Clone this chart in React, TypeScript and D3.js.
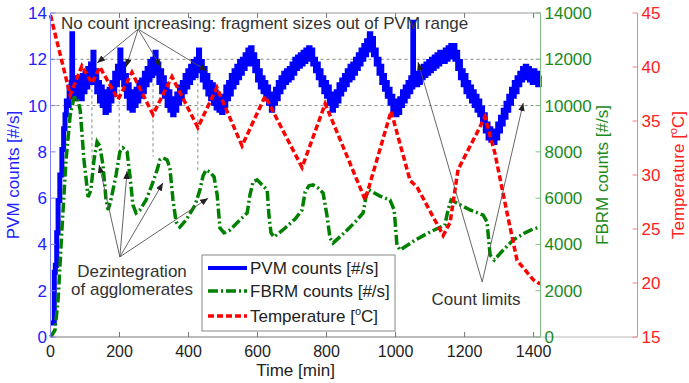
import React from "react";
import * as d3 from "d3";

const W = 689;
const H = 383;

const timeTicks = [0, 200, 400, 600, 800, 1000, 1200, 1400];
const pvmTicks = [0, 2, 4, 6, 8, 10, 12, 14];
const fbrmTicks = [0, 2000, 4000, 6000, 8000, 10000, 12000, 14000];
const tempTicks = [15, 20, 25, 30, 35, 40, 45];
const limitLines = [10, 12];

// PVM counts [#/s] (time [min], value)
const pvm: [number, number][] = [
  [0, 0.6], [5, 0.6], [10, 0.6], [11, 2.8], [14, 3.1], [18, 4.5], [22, 5.9], [27, 7.0], [33, 8.1], [38, 9.0],
  [42, 9.6], [46, 10.2], [50, 10.0], [54, 10.8], [58, 10.4], [60, 11.0], [62, 13.1], [64, 10.5], [68, 11.0], [72, 10.3],
  [76, 11.2], [80, 10.5], [84, 11.0], [88, 10.3], [92, 11.3], [96, 10.6], [100, 11.4], [104, 10.8], [108, 11.6], [112, 11.0],
  [116, 11.8], [120, 11.2], [123, 12.3], [126, 11.0], [130, 11.5], [134, 10.6], [138, 11.0], [142, 10.2], [146, 10.8], [150, 10.0],
  [154, 10.6], [158, 9.7], [162, 10.5], [166, 9.8], [170, 10.7], [174, 10.2], [178, 11.0], [182, 10.5], [186, 11.4], [190, 10.9],
  [194, 11.7], [198, 11.2], [201, 12.4], [204, 11.3], [208, 11.8], [212, 10.9], [216, 11.3], [220, 10.4], [224, 10.9], [228, 9.9],
  [232, 10.6], [236, 9.8], [240, 10.5], [244, 10.0], [248, 10.7], [252, 10.2], [256, 11.0], [260, 10.4], [264, 11.1], [268, 10.6],
  [272, 11.4], [276, 10.9], [280, 11.6], [284, 11.1], [288, 11.9], [292, 11.3], [296, 12.0], [300, 11.5], [303, 12.3], [306, 11.4],
  [310, 11.8], [314, 11.0], [318, 11.5], [322, 10.6], [326, 11.2], [330, 10.4], [334, 10.9], [338, 10.0], [342, 10.6], [346, 9.8],
  [350, 10.3], [354, 9.6], [358, 10.2], [362, 9.8], [366, 10.5], [370, 10.1], [374, 10.8], [378, 10.3], [382, 11.0], [386, 10.6],
  [390, 11.3], [394, 10.8], [398, 11.5], [402, 11.0], [406, 11.7], [410, 11.2], [414, 11.9], [418, 11.3], [422, 12.0], [426, 11.5],
  [429, 12.4], [432, 11.6], [436, 11.9], [440, 11.1], [444, 11.6], [448, 10.8], [452, 11.3], [456, 10.5], [460, 11.0], [464, 10.3],
  [468, 10.9], [472, 10.1], [476, 10.6], [480, 9.9], [484, 10.4], [488, 9.8], [492, 10.3], [496, 9.7], [500, 10.4], [504, 10.0],
  [508, 10.8], [512, 10.3], [516, 11.0], [520, 10.5], [524, 11.3], [528, 10.8], [532, 11.5], [536, 11.0], [540, 11.7], [544, 11.2],
  [548, 11.9], [552, 11.4], [556, 12.0], [560, 11.6], [564, 12.2], [568, 11.8], [572, 12.4], [576, 12.0], [580, 12.5], [584, 11.8],
  [588, 12.2], [592, 11.5], [596, 11.9], [600, 11.1], [604, 11.5], [608, 10.8], [612, 11.2], [616, 10.6], [620, 11.0], [624, 10.3],
  [628, 10.8], [632, 10.1], [636, 10.5], [640, 9.8], [644, 10.4], [648, 10.1], [652, 10.7], [656, 10.3], [660, 11.0], [664, 10.6],
  [668, 11.2], [672, 10.8], [676, 11.4], [680, 11.0], [684, 11.5], [688, 11.1], [692, 11.6], [696, 11.2], [700, 11.8], [704, 11.4],
  [708, 12.0], [712, 11.6], [716, 12.1], [720, 11.7], [724, 12.2], [728, 11.8], [732, 12.3], [736, 11.9], [740, 12.4], [744, 12.0],
  [748, 12.5], [752, 12.1], [756, 12.4], [760, 11.8], [764, 12.0], [768, 11.5], [772, 11.8], [776, 11.2], [780, 11.5], [784, 10.9],
  [788, 11.2], [792, 10.6], [796, 11.0], [800, 10.4], [804, 10.8], [808, 10.1], [812, 10.5], [816, 9.8], [820, 10.3], [824, 10.0],
  [828, 10.6], [832, 10.2], [836, 10.9], [840, 10.5], [844, 11.1], [848, 10.7], [852, 11.3], [856, 10.9], [860, 11.5], [864, 11.1],
  [868, 11.7], [872, 11.2], [876, 11.8], [880, 11.4], [884, 12.0], [888, 11.6], [892, 12.2], [896, 11.8], [900, 12.4], [904, 12.0],
  [908, 12.6], [912, 12.2], [916, 12.8], [920, 12.4], [924, 13.1], [928, 12.6], [932, 12.9], [936, 12.2], [940, 12.4], [944, 11.8],
  [948, 12.0], [952, 11.4], [956, 11.7], [960, 11.0], [964, 11.3], [968, 10.7], [972, 11.0], [976, 10.4], [980, 10.7], [984, 10.1],
  [988, 10.4], [992, 9.8], [996, 10.2], [1000, 9.6], [1004, 10.1], [1008, 9.7], [1012, 10.3], [1016, 10.0], [1020, 10.6], [1024, 10.2],
  [1028, 10.8], [1032, 10.4], [1036, 11.0], [1040, 10.6], [1044, 11.2], [1048, 10.8], [1050, 13.6], [1052, 10.9], [1056, 11.3], [1060, 10.9],
  [1064, 11.4], [1068, 11.0], [1072, 11.6], [1076, 11.2], [1080, 11.7], [1084, 11.3], [1088, 11.8], [1092, 11.4], [1096, 11.9], [1100, 11.5],
  [1104, 12.0], [1108, 11.6], [1112, 12.1], [1116, 11.7], [1120, 12.2], [1124, 11.8], [1128, 12.3], [1132, 11.9], [1136, 12.3], [1140, 11.9],
  [1144, 12.4], [1148, 12.0], [1152, 12.5], [1156, 12.1], [1160, 12.6], [1164, 12.2], [1168, 12.6], [1172, 12.0], [1176, 12.3], [1180, 11.6],
  [1184, 11.9], [1188, 11.2], [1192, 11.5], [1196, 10.9], [1200, 11.3], [1204, 10.6], [1208, 11.0], [1212, 10.4], [1216, 10.8], [1220, 10.2],
  [1224, 10.6], [1228, 10.0], [1232, 10.4], [1236, 9.8], [1240, 10.2], [1244, 9.6], [1248, 9.9], [1252, 9.3], [1256, 9.6], [1260, 8.9],
  [1264, 9.2], [1268, 8.6], [1272, 9.0], [1276, 8.5], [1280, 8.9], [1284, 8.4], [1288, 8.9], [1292, 8.6], [1296, 9.2], [1300, 8.9],
  [1304, 9.5], [1308, 9.2], [1312, 9.8], [1316, 9.5], [1320, 10.1], [1324, 9.8], [1328, 10.4], [1332, 10.1], [1336, 10.7], [1340, 10.4],
  [1344, 11.0], [1348, 10.6], [1352, 11.2], [1356, 10.9], [1360, 11.4], [1364, 11.1], [1368, 11.6], [1372, 11.2], [1376, 11.7], [1380, 11.3],
  [1384, 11.6], [1388, 11.1], [1392, 11.5], [1396, 11.0], [1400, 11.5], [1404, 11.0], [1408, 11.4], [1412, 10.9], [1416, 11.3],
];

// FBRM counts [#/s]
const fbrm: [number, number][] = [
  [0, 0], [4, 90], [13, 300], [22, 1600], [33, 4620], [45, 7650], [57, 9590], [68, 10330], [77, 10370], [86, 9810],
  [97, 7650], [109, 6050], [117, 6350], [126, 7650], [135, 8430], [143, 8255], [152, 7430], [161, 5920], [167, 5490], [175, 5920],
  [190, 7000], [201, 8000], [210, 8170], [222, 8000], [230, 7000], [239, 5700], [248, 5360], [259, 5490], [277, 5920], [294, 6570],
  [309, 7220], [317, 7650], [326, 7740], [338, 7650], [346, 7300], [355, 5920], [364, 4970], [375, 4750], [393, 5060], [419, 5700],
  [433, 6350], [442, 6960], [451, 7220], [462, 7130], [474, 6920], [483, 6140], [491, 4710], [503, 4500], [520, 4620], [549, 5060],
  [570, 5360], [578, 6140], [587, 6700], [599, 6790], [616, 6530], [628, 6350], [633, 5270], [639, 4500], [648, 4320], [680, 4710],
  [709, 5100], [729, 5490], [738, 6270], [749, 6530], [761, 6570], [775, 6440], [790, 6220], [801, 5270], [810, 4280], [819, 4060],
  [854, 4540], [883, 4970], [906, 5360], [915, 6140], [923, 6350], [955, 6090], [984, 5920], [996, 5490], [1004, 3980], [1013, 3760],
  [1057, 4190], [1100, 4540], [1143, 4840], [1152, 5490], [1161, 5920], [1172, 5830], [1216, 5490], [1254, 5270], [1265, 4970], [1274, 3540],
  [1286, 3330], [1312, 3760], [1341, 4190], [1375, 4500], [1399, 4670], [1419, 4750],
];

// Temperature [°C]
const temp: [number, number][] = [
  [0, 44.8], [57, 37.4], [91, 40.1], [120, 38.5], [143, 40.0], [196, 37.0], [236, 39.5], [297, 35.6], [352, 39.1], [427, 34.4],
  [482, 38.1], [555, 32.7], [622, 37.3], [729, 30.7], [796, 36.6], [912, 27.7], [987, 35.9], [1042, 29.5], [1062, 28.9], [1138, 24.4],
  [1158, 25.6], [1181, 30.5], [1236, 33.9], [1259, 35.4], [1288, 32.0], [1323, 26.5], [1352, 22.1], [1399, 20.3], [1419, 19.9],
];

// Annotations in (time, PVM-axis value)
const noCountApex: [number, number] = [254, 13.3];
const noCountTips: [number, number][] = [[135, 11.84], [219, 11.67], [320, 11.67], [454, 11.5]];
const dezApex: [number, number] = [201, 3.46];
const dezTips: [number, number][] = [[141, 7.43], [222, 7.17], [326, 6.66], [457, 6.0]];
const limitApex: [number, number] = [1251, 2.38];
const limitTips: [number, number][] = [[1065, 11.88], [1370, 10.11]];
const dropLines: [number, number, number][] = [[120, 12, 7.5], [199, 12, 8.1], [297, 12, 7.8], [427, 12, 7.1]];

const FONT = "'Liberation Sans', Arial, Helvetica, sans-serif";

export default function App() {
  const left = 50.5, right = 540.5, top = 13, bottom = 337;
  const x = d3.scaleLinear().domain([0, 1420]).range([left, right]);
  const yP = d3.scaleLinear().domain([0, 14]).range([bottom, top]);
  const yF = d3.scaleLinear().domain([0, 14000]).range([bottom, top]);
  const yT = d3.scaleLinear().domain([15, 45]).range([bottom, top]);
  const tempAxisX = 637.5;

  const linePvm = d3.line<[number, number]>().x(d => x(d[0])).y(d => yP(d[1])).curve(d3.curveStepAfter);
  const lineF = d3.line<[number, number]>().x(d => x(d[0])).y(d => yF(d[1]));
  const lineT = d3.line<[number, number]>().x(d => x(d[0])).y(d => yT(d[1]));

  const blue = "#0000ff";
  const green = "#008000";
  const red = "#ff0000";
  const fs = 17;

  const arrow = (a: [number, number], b: [number, number], key: string) => (
    <line key={key} x1={x(a[0])} y1={yP(a[1])} x2={x(b[0])} y2={yP(b[1])}
      stroke="#555" strokeWidth={0.9} markerEnd="url(#ah)" />
  );

  return (
    <div style={{ position: "fixed", left: 0, top: 0 }}>
      <svg width={W} height={H} style={{ display: "block", background: "#fff" }} fontFamily={FONT}>
        <defs>
          <marker id="ah" viewBox="0 0 10 8" refX="10" refY="4" markerWidth="8" markerHeight="6.4"
            markerUnits="userSpaceOnUse" orient="auto">
            <path d="M0,0 L10,4 L0,8 z" fill="#222" />
          </marker>
        </defs>
        <rect x={0} y={0} width={W} height={H} fill="#fff" />

        {/* limit grid lines */}
        {limitLines.map(v => (
          <line key={"g" + v} x1={left} x2={right} y1={yP(v)} y2={yP(v)} stroke="#888" strokeWidth={1} strokeDasharray="3,3" />
        ))}
        {dropLines.map((d, i) => (
          <line key={"d" + i} x1={x(d[0])} x2={x(d[0])} y1={yP(d[1])} y2={yP(d[2])} stroke="#888" strokeWidth={1} strokeDasharray="3,3" />
        ))}

        {/* frame */}
        <line x1={left} x2={right} y1={top} y2={top} stroke="#999" />
        <line x1={left} x2={tempAxisX} y1={bottom} y2={bottom} stroke="#bbb" />
        <line x1={left} x2={right} y1={bottom} y2={bottom} stroke="#999" />

        {/* series */}
        <path d={linePvm(pvm) || ""} fill="none" stroke={blue} strokeWidth={5} strokeLinejoin="miter" />
        <path d={lineF(fbrm) || ""} fill="none" stroke={green} strokeWidth={3.5} strokeDasharray="10,3,2,3" />
        <path d={lineT(temp) || ""} fill="none" stroke={red} strokeWidth={3.5} strokeDasharray="6,3" />

        {/* x axis */}
        {timeTicks.map(t => (
          <g key={"x" + t}>
            <line x1={x(t)} x2={x(t)} y1={bottom} y2={bottom - 5} stroke="#777" />
            <line x1={x(t)} x2={x(t)} y1={top} y2={top + 5} stroke="#777" />
            <text x={x(t)} y={357} textAnchor="middle" fontSize={16} fill="#222">{t}</text>
          </g>
        ))}
        <text x={(left + right) / 2} y={376} textAnchor="middle" fontSize={fs} fill="#222">Time [min]</text>

        {/* left PVM axis */}
        <line x1={left} x2={left} y1={top} y2={bottom} stroke="#8080ff" />
        {pvmTicks.map(v => (
          <g key={"p" + v}>
            <line x1={left} x2={left + 5} y1={yP(v)} y2={yP(v)} stroke="#8080ff" />
            <text x={47} y={yP(v) + 6} textAnchor="end" fontSize={17} fill="#2222ff">{v}</text>
          </g>
        ))}
        <text transform={`translate(19,${(top + bottom) / 2}) rotate(-90)`} textAnchor="middle" fontSize={fs} fill="#2222ff">PVM counts [#/s]</text>

        {/* right FBRM axis */}
        <line x1={right} x2={right} y1={top} y2={bottom} stroke="#7fbf7f" />
        {fbrmTicks.map(v => (
          <g key={"f" + v}>
            <line x1={right} x2={right - 5} y1={yF(v)} y2={yF(v)} stroke="#7fbf7f" />
            <text x={right + 4} y={yF(v) + 6} textAnchor="start" fontSize={17} fill="#1a8a1a">{v}</text>
          </g>
        ))}
        <text transform={`translate(608,${(top + bottom) / 2}) rotate(-90)`} textAnchor="middle" fontSize={fs} fill="#1a8a1a">FBRM counts [#/s]</text>

        {/* temperature axis */}
        <line x1={tempAxisX} x2={tempAxisX} y1={top} y2={bottom} stroke="#ff8080" />
        {tempTicks.map(v => (
          <g key={"t" + v}>
            <line x1={tempAxisX} x2={tempAxisX - 5} y1={yT(v)} y2={yT(v)} stroke="#ff8080" />
            <text x={tempAxisX + 4} y={yT(v) + 6} textAnchor="start" fontSize={17} fill="#ff2020">{v}</text>
          </g>
        ))}
        <text transform={`translate(684,${(top + bottom) / 2}) rotate(-90)`} textAnchor="middle" fontSize={fs} fill="#ff2020">
          Temperature [<tspan dy={-7} fontSize={11}>o</tspan><tspan dy={7}>C]</tspan>
        </text>

        {/* annotations */}
        <text x={61} y={29} fontSize={fs} fill="#333">No count increasing: fragment sizes out of PVM range</text>
        {noCountTips.map((t, i) => arrow(noCountApex, t, "n" + i))}
        {dezTips.map((t, i) => arrow(dezApex, t, "z" + i))}
        <text x={132} y={277} textAnchor="middle" fontSize={fs} fill="#333">Dezintegration</text>
        <text x={132} y={295} textAnchor="middle" fontSize={fs} fill="#333">of agglomerates</text>
        {limitTips.map((t, i) => arrow(limitApex, t, "l" + i))}
        <text x={476} y={305} textAnchor="middle" fontSize={fs} fill="#333">Count limits</text>

        {/* legend */}
        <rect x={202} y={255} width={193} height={76} fill="#fff" stroke="#888" />
        <line x1={208} x2={247} y1={268} y2={268} stroke={blue} strokeWidth={4} />
        <line x1={208} x2={247} y1={291} y2={291} stroke={green} strokeWidth={3.5} strokeDasharray="10,3,2,3" />
        <line x1={208} x2={247} y1={316} y2={316} stroke={red} strokeWidth={3.5} strokeDasharray="6,3" />
        <text x={250} y={274} fontSize={fs} fill="#222">PVM counts [#/s]</text>
        <text x={250} y={297} fontSize={fs} fill="#222">FBRM counts [#/s]</text>
        <text x={250} y={322} fontSize={fs} fill="#222">
          Temperature [<tspan dy={-7} fontSize={11}>o</tspan><tspan dy={7}>C]</tspan>
        </text>
      </svg>
    </div>
  );
}
